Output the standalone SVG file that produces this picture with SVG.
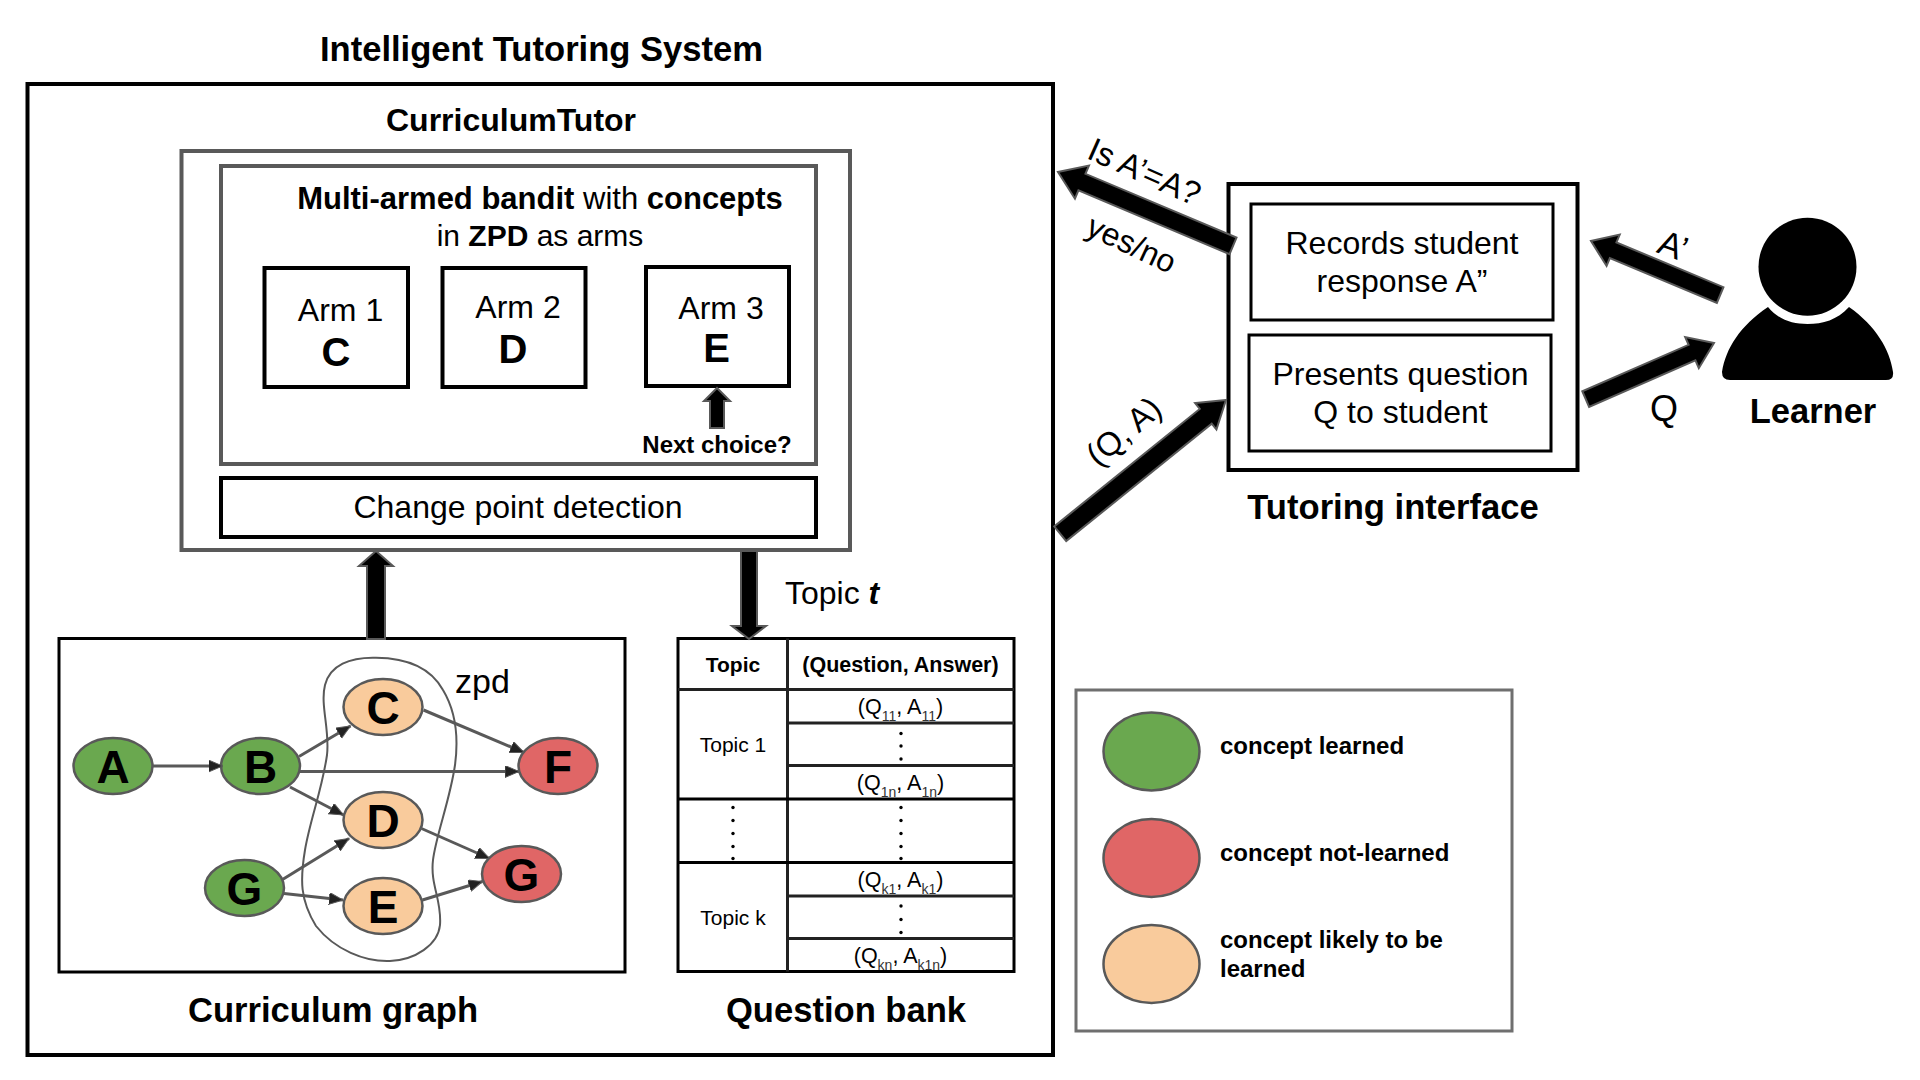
<svg xmlns="http://www.w3.org/2000/svg" width="1920" height="1080" viewBox="0 0 1920 1080">
<style>
text{font-family:"Liberation Sans",Arial,sans-serif;fill:#000}
.b{font-weight:700}
.h{font-weight:700;font-size:34.600px;text-anchor:middle}
.m{text-anchor:middle}
.t32{font-size:32px}
.box{fill:#fff;stroke:#000;stroke-width:4}
.gbox{fill:#fff;stroke:#595959;stroke-width:4}
.thin{fill:#fff;stroke:#000;stroke-width:3}
.ln{stroke:#222;stroke-width:3;fill:none}
.ba{fill:#000;stroke:#595959;stroke-width:2}
.e{stroke:#595959;stroke-width:3;fill:none;marker-end:url(#tri)}
.n{stroke:#595959;stroke-width:2.500}
.g{fill:#6aa84f}.r{fill:#e06666}.o{fill:#f9cb9c}
.nl{font-weight:700;font-size:46px;text-anchor:middle}
.q{font-size:21.500px;text-anchor:middle}
.s{font-size:14px;fill:#333}
.lg{font-weight:700;font-size:24px}
.dot{fill:#000}
</style>
<defs>
<marker id="tri" markerUnits="userSpaceOnUse" markerWidth="16" markerHeight="14" refX="14" refY="6" orient="auto"><path d="M0,0 L14,6 L0,12 Z" fill="#222" stroke="#595959" stroke-width="1"/></marker>
</defs>
<rect width="1920" height="1080" fill="#fff"/>

<g id="its">
<rect x="27.500" y="84" width="1025.500" height="971" fill="#fff" stroke="#000" stroke-width="4"/>
<text class="h" x="541.500" y="61">Intelligent Tutoring System</text>
</g>

<g id="curriculum-tutor">
<text class="b m" font-size="32" x="511" y="131">CurriculumTutor</text>
<rect class="gbox" x="181.500" y="151" width="668.500" height="399"/>
</g>
<g id="bandit">
<rect class="gbox" x="221" y="166" width="595" height="298"/>
<text class="m" font-size="31" x="540" y="209" fill="#222"><tspan class="b" fill="#000">Multi-armed bandit</tspan> with <tspan class="b">concepts</tspan></text>
<text class="m" font-size="30" x="540" y="246">in <tspan class="b">ZPD</tspan> as arms</text>
</g>
<g id="arm1">
<rect class="box" x="264.500" y="268" width="143.500" height="119"/>
<text class="m t32" x="340.500" y="321">Arm 1</text>
<text class="m b" font-size="40" x="336" y="366">C</text>
</g>
<g id="arm2">
<rect class="box" x="442.500" y="268" width="143" height="119"/>
<text class="m t32" x="518" y="318">Arm 2</text>
<text class="m b" font-size="40" x="513" y="363">D</text>
</g>
<g id="arm3">
<rect class="box" x="646" y="267" width="143" height="119"/>
<text class="m t32" x="721" y="319">Arm 3</text>
<text class="m b" font-size="40" x="716.500" y="362">E</text>
</g>
<g id="next-choice">
<text class="m b" font-size="24" x="717" y="453">Next choice?</text>
</g>
<g id="change-point">
<rect class="box" x="221" y="478" width="595" height="59"/>
<text class="m t32" x="518" y="518">Change point detection</text>
</g>

<g id="curriculum-graph">
<rect class="thin" x="59" y="638.500" width="566" height="333.500"/>
<text class="h" x="333" y="1022">Curriculum graph</text>
<path d="M376,657.700 C350,657 330,665 325,685 C320,705 330,730 327,755 C322,790 310,820 305,850 C300,880 300,900 316,926 C335,950 365,962 390,961 C415,960 438,945 440,925 C442,900 430,885 433,860 C436,835 450,800 455,765 C459,735 455,710 443,690 C432,670 410,658 376,657.700 Z" fill="none" stroke="#595959" stroke-width="2"/>
<text font-size="34" x="455" y="693">zpd</text>
</g>

<g id="node-A"><ellipse class="n g" cx="113" cy="766" rx="39.500" ry="28"/><text class="nl" x="113" y="783">A</text></g>
<g id="node-B"><ellipse class="n g" cx="260.500" cy="766" rx="39.500" ry="28"/><text class="nl" x="260.500" y="783">B</text></g>
<g id="node-C"><ellipse class="n o" cx="383" cy="707" rx="39.500" ry="28"/><text class="nl" x="383" y="724">C</text></g>
<g id="node-D"><ellipse class="n o" cx="383" cy="820" rx="39.500" ry="28"/><text class="nl" x="383" y="837">D</text></g>
<g id="node-E"><ellipse class="n o" cx="383" cy="906" rx="39.500" ry="28"/><text class="nl" x="383" y="923">E</text></g>
<g id="node-F"><ellipse class="n r" cx="558" cy="766" rx="39.500" ry="28"/><text class="nl" x="558" y="783">F</text></g>
<g id="node-G-right"><ellipse class="n r" cx="521.500" cy="874" rx="39.500" ry="28"/><text class="nl" x="521.500" y="891">G</text></g>
<g id="node-G-left"><ellipse class="n g" cx="244.500" cy="888" rx="39.500" ry="28"/><text class="nl" x="244.500" y="905">G</text></g>

<g id="question-bank">
<rect class="thin" x="678" y="638.500" width="336" height="333"/>
<path class="ln" d="M787.500,638.500 V971.500 M678,689.500 H1014 M787.500,723 H1014 M787.500,765.500 H1014 M787.500,896 H1014 M787.500,938.500 H1014"/>
<path d="M678,799 H1014 M678,862.500 H1014" stroke="#000" stroke-width="3" fill="none"/>
<text class="b m" font-size="21" x="733" y="672">Topic</text>
<text class="b m" font-size="21.500" x="900.500" y="672">(Question, Answer)</text>
<text class="m" font-size="21" x="733" y="752">Topic 1</text>
<text class="m" font-size="21" x="733" y="925">Topic k</text>
<text class="q" x="900.500" y="714">(Q<tspan class="s" dy="7">11</tspan><tspan dy="-7">, A</tspan><tspan class="s" dy="7">11</tspan><tspan dy="-7">)</tspan></text>
<text class="q" x="900.500" y="790">(Q<tspan class="s" dy="7">1n</tspan><tspan dy="-7">, A</tspan><tspan class="s" dy="7">1n</tspan><tspan dy="-7">)</tspan></text>
<text class="q" x="900.500" y="887">(Q<tspan class="s" dy="7">k1</tspan><tspan dy="-7">, A</tspan><tspan class="s" dy="7">k1</tspan><tspan dy="-7">)</tspan></text>
<text class="q" x="900.500" y="963">(Q<tspan class="s" dy="7">kn</tspan><tspan dy="-7">, A</tspan><tspan class="s" dy="7">k1n</tspan><tspan dy="-7">)</tspan></text>
<g class="dot">
<circle cx="901" cy="733.500" r="1.700"/><circle cx="901" cy="746" r="1.700"/><circle cx="901" cy="759" r="1.700"/>
<circle cx="901" cy="807.500" r="1.700"/><circle cx="901" cy="820.500" r="1.700"/><circle cx="901" cy="833.500" r="1.700"/><circle cx="901" cy="846.500" r="1.700"/><circle cx="901" cy="858.500" r="1.700"/>
<circle cx="733" cy="807.500" r="1.700"/><circle cx="733" cy="820.500" r="1.700"/><circle cx="733" cy="833.500" r="1.700"/><circle cx="733" cy="846.500" r="1.700"/><circle cx="733" cy="858.500" r="1.700"/>
<circle cx="901" cy="906" r="1.700"/><circle cx="901" cy="919.500" r="1.700"/><circle cx="901" cy="932.500" r="1.700"/>
</g>
<text class="h" x="846" y="1022">Question bank</text>
</g>

<g id="legend">
<rect x="1076" y="690" width="436" height="341" fill="#fff" stroke="#6f6f6f" stroke-width="3"/>
<ellipse class="n g" cx="1151.500" cy="751.500" rx="48" ry="39"/>
<ellipse class="n r" cx="1151.500" cy="858" rx="48" ry="39"/>
<ellipse class="n o" cx="1151.500" cy="964" rx="48" ry="39"/>
<text class="lg" x="1220" y="754">concept learned</text>
<text class="lg" x="1220" y="861">concept not-learned</text>
<text class="lg" x="1220" y="948">concept likely to be</text>
<text class="lg" x="1220" y="977">learned</text>
</g>

<g id="tutoring-interface">
<rect class="box" x="1228.500" y="184" width="349" height="286"/>
<text class="h" x="1393" y="519">Tutoring interface</text>
</g>
<g id="records">
<rect class="thin" x="1251" y="204" width="302" height="116" stroke="#222"/>
<text class="m t32" x="1402" y="254">Records student</text>
<text class="m t32" x="1402" y="292">response A”</text>
</g>
<g id="presents">
<rect class="thin" x="1249" y="335" width="302" height="116"/>
<text class="m t32" x="1400.500" y="385">Presents question</text>
<text class="m t32" x="1400.500" y="423">Q to student</text>
</g>

<g id="learner">
<circle cx="1807.500" cy="266.700" r="49" fill="#000"/>
<path d="M1768,307 C1779,320 1792,324 1807.500,324 C1823,324 1837,320 1849,307 C1876,326 1890,350 1893,372 Q1894,380 1886,380 L1730,380 Q1722,380 1722,372 C1726,348 1740,326 1768,307 Z" fill="#000"/>
<text class="b m" font-size="34.500" x="1813" y="423">Learner</text>
</g>

<g id="connectors">
<g id="edges">
<line class="e" x1="152.500" y1="766" x2="222.500" y2="766"/>
<line class="e" x1="299" y1="756.500" x2="350.500" y2="726"/>
<line class="e" x1="300" y1="771.500" x2="519" y2="771.500"/>
<line class="e" x1="290" y1="787" x2="343.500" y2="815"/>
<line class="e" x1="423.500" y1="710" x2="524" y2="752.500"/>
<line class="e" x1="421.500" y1="828.500" x2="489.500" y2="858.500"/>
<line class="e" x1="282.500" y1="879.500" x2="349" y2="838.500"/>
<line class="e" x1="284" y1="893.500" x2="343" y2="900"/>
<line class="e" x1="422.500" y1="900" x2="482.500" y2="881.500"/>
</g>
<path class="ba" transform="translate(717,388) rotate(-90)" d="M0,0 L-13,-13 L-13,-7 L-40,-7 L-40,7 L-13,7 L-13,13 Z"/>
<path class="ba" transform="translate(376,551) rotate(-90)" d="M0,0 L-15,-17 L-15,-9 L-88,-9 L-88,9 L-15,9 L-15,17 Z"/>
<path class="ba" transform="translate(749,639) rotate(90)" d="M0,0 L-13,-17 L-13,-8 L-88,-8 L-88,8 L-13,8 L-13,17 Z"/>
<path class="ba" transform="translate(1058,172) rotate(202.900)" d="M0,0 L-26,-18 L-26,-9 L-190,-9 L-190,9 L-26,9 L-26,18 Z"/>
<path class="ba" transform="translate(1226,400) rotate(-38.900)" d="M0,0 L-26,-17 L-26,-9.500 L-213,-9.500 L-213,9.500 L-26,9.500 L-26,17 Z"/>
<path class="ba" transform="translate(1591,241) rotate(202.700)" d="M0,0 L-24,-17 L-24,-8.500 L-140,-8.500 L-140,8.500 L-24,8.500 L-24,17 Z"/>
<path class="ba" transform="translate(1714,343) rotate(-23.600)" d="M0,0 L-24,-17 L-24,-8.500 L-140,-8.500 L-140,8.500 L-24,8.500 L-24,17 Z"/>
<text class="t32" transform="translate(785,604)">Topic <tspan font-weight="700" font-style="italic">t</tspan></text>
<text class="m" font-size="33" transform="translate(1140,182) rotate(24)">Is A’=A?</text>
<text class="m t32" transform="translate(1127,254) rotate(25)">yes/no</text>
<text class="m" font-size="33" transform="translate(1131,440) rotate(-40)">(Q, A)</text>
<text class="m" font-size="35" transform="translate(1669,257) rotate(20)">A’</text>
<text class="m" font-size="36" x="1664" y="421">Q</text>
</g>
</svg>
